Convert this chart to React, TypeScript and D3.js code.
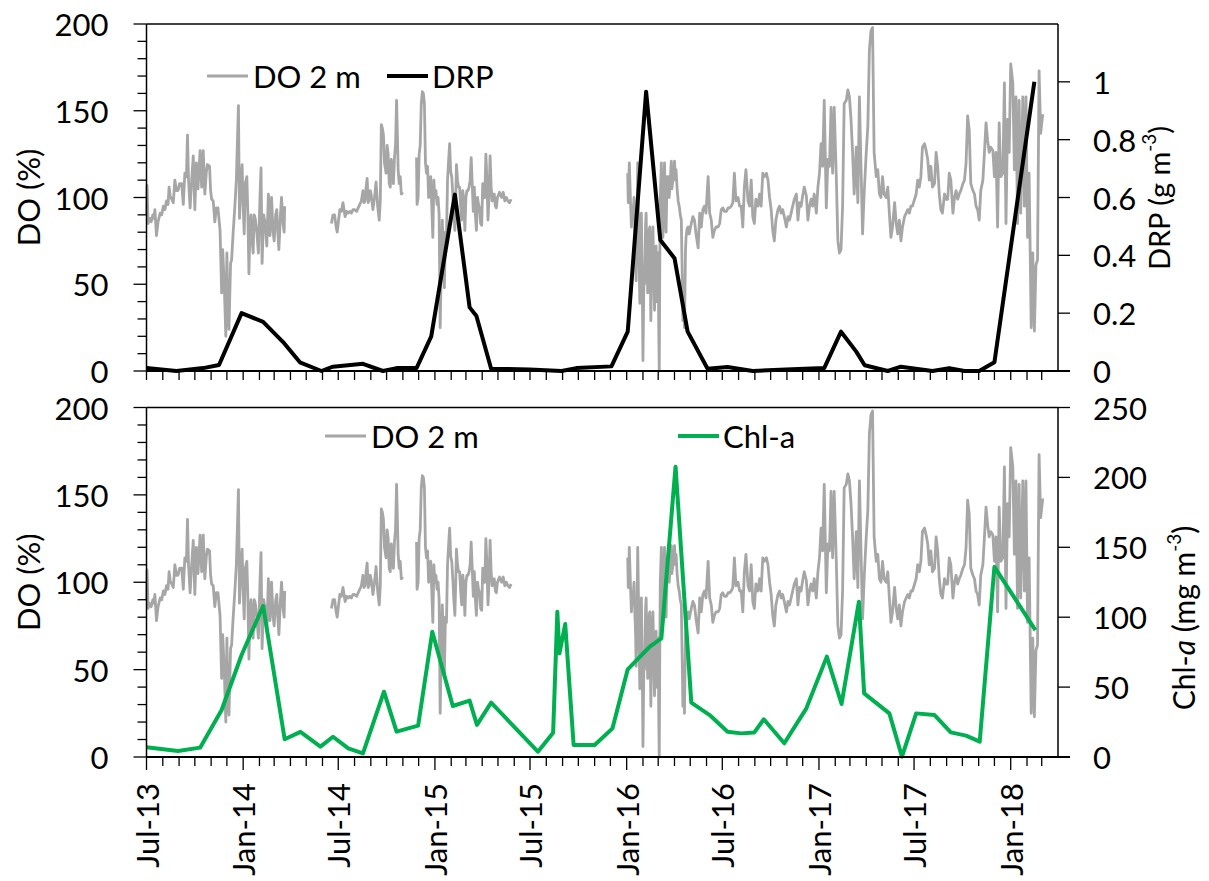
import React from "react";
import * as d3 from "d3";

// ---------- DATA ----------
const SERIES_START = "2013-07-01";
const AXIS_END = "2018-04-01";

// DO at 2 m (%), high-frequency record: [days since SERIES_START, value], split at data gaps
const doSeg1: [number, number][] = [
  [0, 90], [1, 107], [3, 85], [6, 88], [9, 86], [12, 90], [14, 88], [16, 93], [19, 78], [22, 86], [26, 91], [29, 90],
  [32, 95], [35, 93], [38, 98], [41, 96], [43, 106], [45, 101], [48, 99], [51, 97], [54, 110], [57, 104], [60, 104],
  [63, 108], [67, 108], [70, 96], [73, 114], [76, 112], [78, 136], [80, 110], [83, 94], [86, 110], [89, 124], [92, 93],
  [95, 120], [98, 105], [102, 127], [105, 106], [108, 127], [111, 102], [114, 115], [116, 119], [120, 118], [122, 104],
  [124, 99], [127, 98], [130, 86], [133, 94], [136, 94], [140, 81], [143, 45], [145, 70], [148, 50], [151, 20], [153, 68],
  [155, 35], [157, 24], [160, 62], [162, 64], [165, 80], [168, 94], [171, 110], [175, 153], [177, 88], [180, 110],
  [182, 119], [184, 95], [186, 79], [188, 108], [191, 112], [193, 90], [195, 56], [197, 84], [199, 90], [201, 75],
  [203, 68], [205, 90], [207, 88], [210, 80], [213, 68], [216, 100], [218, 117], [220, 62], [223, 90], [226, 85],
  [229, 72], [232, 102], [235, 78], [238, 100], [241, 80], [243, 75], [246, 90], [248, 93], [250, 80], [252, 70],
  [255, 90], [257, 100], [260, 85], [262, 80], [263, 95],
];
const doSeg2: [number, number][] = [
  [352, 85], [355, 90], [358, 90], [361, 83], [363, 80], [366, 88], [368, 93], [371, 92], [374, 97], [376, 93], [378, 89],
  [381, 92], [384, 91], [387, 92], [390, 91], [393, 93], [396, 93], [400, 92], [403, 94], [406, 96], [409, 98], [412, 104],
  [414, 97], [416, 98], [418, 106], [420, 111], [422, 97], [424, 99], [426, 104], [428, 101], [431, 93], [434, 100],
  [437, 109], [440, 95], [443, 87], [445, 98], [447, 142], [449, 140], [451, 136], [453, 120], [456, 114], [458, 130],
  [460, 125], [462, 108], [464, 106], [466, 122], [468, 115], [470, 108], [472, 123], [474, 130], [476, 156], [478, 130],
  [479, 116], [481, 108], [483, 112], [485, 102], [488, 103],
];
const doSeg3: [number, number][] = [
  [514, 123], [515, 96], [517, 100], [519, 125], [521, 130], [523, 154], [525, 161], [527, 160], [529, 154], [531, 120],
  [533, 114], [535, 118], [537, 100], [539, 110], [541, 112], [543, 95], [545, 77], [547, 110], [549, 100], [551, 104],
  [553, 96], [555, 100], [557, 90], [559, 25], [561, 60], [563, 87], [565, 70], [567, 48], [569, 80], [571, 77], [573, 110],
  [575, 121], [577, 131], [579, 115], [581, 112], [583, 102], [585, 90], [587, 81], [589, 105], [590, 119], [592, 110],
  [594, 106], [596, 106], [598, 95], [600, 87], [602, 104], [604, 98], [606, 81], [608, 100], [610, 104], [612, 104],
  [614, 106], [616, 110], [618, 123], [620, 108], [622, 92], [624, 106], [626, 90], [628, 81], [630, 100], [632, 96],
  [634, 94], [636, 85], [638, 84], [640, 108], [642, 100], [644, 100], [646, 125], [648, 110], [650, 87], [652, 100],
  [654, 124], [656, 106], [658, 98], [660, 100], [662, 102], [664, 95], [666, 94], [668, 100], [672, 103], [676, 100],
  [679, 103], [682, 98], [685, 100], [688, 98], [691, 97], [694, 99],
];
const doSeg4: [number, number][] = [
  [916, 114], [917, 97], [919, 120], [921, 100], [923, 83], [925, 95], [926, 90], [928, 100], [929, 87], [931, 70],
  [932, 52], [934, 90], [935, 120], [937, 80], [939, 39], [940, 70], [942, 91], [944, 40], [945, 6], [947, 60], [948, 50],
  [950, 85], [951, 91], [953, 60], [954, 45], [956, 80], [958, 83], [960, 29], [962, 70], [964, 83], [966, 50], [967, 35],
  [969, 60], [970, 72], [972, 40], [974, 68], [975, 25], [976, 0], [977, 60], [978, 100], [980, 120], [982, 85], [983, 77],
  [985, 110], [986, 120], [988, 90], [989, 80], [991, 112], [993, 112], [995, 100], [997, 110], [999, 121], [1000, 105],
  [1002, 110], [1004, 115], [1005, 121], [1007, 110], [1008, 116], [1010, 105], [1012, 98], [1014, 95], [1016, 90],
  [1018, 87], [1020, 50], [1021, 29], [1023, 40], [1024, 25], [1026, 70], [1027, 77], [1029, 82], [1031, 83], [1033, 79],
  [1035, 82], [1037, 85], [1040, 89], [1043, 87], [1046, 79], [1050, 71], [1053, 91], [1056, 83], [1059, 93], [1062, 95],
  [1065, 91], [1069, 112], [1072, 91], [1075, 87], [1078, 77], [1081, 81], [1084, 83], [1088, 83], [1091, 85], [1094, 93],
  [1097, 94], [1100, 92], [1104, 92], [1107, 94], [1110, 94], [1113, 95], [1116, 97], [1119, 114], [1122, 98], [1126, 100],
  [1129, 95], [1132, 95], [1135, 83], [1138, 106], [1141, 116], [1145, 98], [1148, 95], [1151, 110], [1154, 89], [1157, 85],
  [1160, 99], [1164, 95], [1167, 102], [1170, 95], [1173, 114], [1176, 112], [1180, 114], [1183, 110], [1186, 100],
  [1189, 93], [1192, 81], [1195, 75], [1198, 87], [1202, 93], [1205, 95], [1208, 91], [1211, 93], [1214, 89], [1218, 83],
  [1221, 89], [1224, 87], [1227, 91], [1230, 95], [1233, 99], [1237, 102], [1240, 87], [1243, 97], [1246, 95], [1249, 101],
  [1252, 106], [1256, 101], [1259, 87], [1262, 95], [1265, 99], [1268, 95], [1271, 102], [1275, 91], [1278, 106],
  [1281, 114], [1284, 131], [1287, 118], [1290, 156], [1294, 94], [1297, 122], [1300, 118], [1303, 152], [1306, 114],
  [1309, 152], [1313, 112], [1316, 75], [1319, 68], [1322, 70], [1325, 95], [1328, 154], [1332, 156], [1335, 162],
  [1338, 158], [1341, 145], [1344, 126], [1347, 102], [1351, 129], [1354, 97], [1357, 158], [1360, 118], [1363, 79],
  [1366, 102], [1370, 126], [1373, 141], [1376, 185], [1379, 196], [1382, 198], [1385, 126], [1389, 112], [1392, 116],
  [1395, 102], [1398, 100], [1401, 112], [1404, 102], [1408, 100], [1411, 106], [1414, 91], [1417, 77], [1420, 83],
  [1424, 97], [1427, 85], [1430, 79], [1433, 87], [1436, 75], [1439, 83], [1443, 89], [1446, 91], [1449, 93], [1452, 91],
  [1455, 95], [1458, 95], [1462, 99], [1465, 102], [1468, 110], [1471, 106], [1474, 112], [1477, 129], [1481, 131],
  [1484, 127], [1487, 122], [1490, 110], [1493, 118], [1496, 106], [1500, 108], [1503, 126], [1506, 118], [1509, 102],
  [1512, 93], [1515, 91], [1519, 102], [1522, 99], [1525, 99], [1528, 114], [1531, 110], [1535, 91], [1538, 100],
  [1541, 104], [1544, 99], [1547, 102], [1550, 104], [1554, 108], [1557, 110], [1560, 120], [1563, 147], [1566, 139],
  [1569, 108], [1573, 104], [1576, 102], [1579, 95], [1582, 93], [1585, 87], [1588, 104], [1592, 110], [1595, 126],
  [1598, 143], [1601, 133], [1604, 126], [1607, 129], [1611, 127], [1614, 112], [1617, 126], [1620, 83], [1623, 143],
  [1626, 112], [1630, 114], [1633, 166], [1636, 85], [1639, 145], [1642, 126], [1645, 177], [1649, 166], [1652, 116],
  [1655, 158], [1658, 85], [1661, 156], [1664, 91], [1668, 158], [1671, 95], [1674, 158], [1677, 77], [1680, 114],
  [1684, 25], [1687, 68], [1690, 23], [1693, 61], [1696, 64], [1699, 173], [1702, 137], [1706, 148],
];
const doSegments = [doSeg1, doSeg2, doSeg3, doSeg4];

// DRP (g m-3)
const drpDates = [
  "2013-07-01", "2013-08-27", "2013-10-17", "2013-11-16", "2013-12-29", "2014-02-08", "2014-03-18", "2014-04-19",
  "2014-05-30", "2014-06-21", "2014-08-17", "2014-09-24", "2014-10-20", "2014-11-27", "2014-12-25", "2015-02-08",
  "2015-03-08", "2015-03-21", "2015-04-18", "2015-06-30", "2015-08-30", "2015-09-27", "2015-12-03", "2016-01-03",
  "2016-02-07", "2016-03-05", "2016-04-01", "2016-04-26", "2016-06-03", "2016-07-11", "2016-08-28", "2016-10-30",
  "2017-01-11", "2017-02-12", "2017-03-13", "2017-03-29", "2017-05-12", "2017-06-06", "2017-08-05", "2017-09-06",
  "2017-10-05", "2017-11-02", "2017-12-01", "2018-02-15",
];
const drpValues = [
  0.01, 0.0, 0.01, 0.021, 0.2, 0.17, 0.1, 0.03, 0.0, 0.015, 0.025, 0.0, 0.01, 0.01, 0.12, 0.61, 0.22, 0.19, 0.008,
  0.005, 0.0, 0.01, 0.016, 0.136, 0.966, 0.453, 0.39, 0.136, 0.008, 0.014, 0.0, 0.005, 0.01, 0.136, 0.067, 0.02, 0.0,
  0.015, 0.0, 0.01, 0.0, 0.0, 0.03, 1.0,
];

// Chl-a (mg m-3)
const chlDates = [
  "2013-07-01", "2013-08-30", "2013-10-11", "2013-11-21", "2013-12-29", "2014-02-08", "2014-03-21", "2014-04-20",
  "2014-05-28", "2014-06-21", "2014-07-20", "2014-08-17", "2014-09-26", "2014-10-20", "2014-11-30", "2014-12-27",
  "2015-02-04", "2015-03-08", "2015-03-22", "2015-04-18", "2015-07-16", "2015-08-14", "2015-08-22", "2015-08-26",
  "2015-09-06", "2015-09-22", "2015-11-01", "2015-12-05", "2016-01-03", "2016-02-14", "2016-03-07", "2016-04-03",
  "2016-05-03", "2016-06-07", "2016-07-11", "2016-08-06", "2016-08-31", "2016-09-18", "2016-10-27", "2016-12-08",
  "2017-01-16", "2017-02-13", "2017-03-18", "2017-03-28", "2017-05-15", "2017-06-08", "2017-07-05", "2017-08-09",
  "2017-09-09", "2017-10-08", "2017-11-03", "2017-12-01", "2018-02-17",
];
const chlValues = [
  6.9, 4.3, 6.7, 33.6, 73, 108, 12.7, 18, 7.4, 14.5, 6.2, 2.6, 46.7, 18.1, 22.4, 89.6, 36.5, 40.3, 23, 38.9, 3.8, 17.4,
  103.9, 74.2, 95.1, 8.6, 8.6, 20.5, 62.7, 78.9, 84.9, 207.7, 38.9, 30, 18.1, 16.9, 17.6, 27, 9.8, 34.8, 71.8, 37.9, 111,
  45.5, 31.2, 0.2, 31.2, 30, 17.6, 15.3, 11, 136, 90.8,
];

const doTicks = [0, 50, 100, 150, 200];
const drpTicks = [0, 0.2, 0.4, 0.6, 0.8, 1];
const chlTicks = [0, 50, 100, 150, 200, 250];

// ---------- CHART ----------
const FONT = "Lato, 'Open Sans', sans-serif";
const FS = 31;
const parse = d3.utcParse("%Y-%m-%d");
const t0 = parse(SERIES_START) as Date;
const tEnd = parse(AXIS_END) as Date;
const x = d3.scaleUtc().domain([t0, tEnd]).range([146.5, 1058]);
const months = d3.utcMonth.range(t0, tEnd);
const fmtMonth = d3.utcFormat("%b-%y");
const dayDate = (d: number) => d3.utcDay.offset(t0, d);

type PanelProps = {
  top: number;
  bottom: number;
  rightMax: number;
  rightTicks: number[];
  rDates: string[];
  rValues: number[];
  color: string;
  legendDO: number;
  legendR: number;
  legendY: number;
  rName: string;
  majorTicks: boolean;
  children?: React.ReactNode;
};

function Panel(p: PanelProps) {
  const yL = d3.scaleLinear().domain([0, 200]).range([p.bottom, p.top]);
  const yR = d3.scaleLinear().domain([0, p.rightMax]).range([p.bottom, p.top]);
  const doLine = d3
    .line<[number, number]>()
    .x((d) => x(dayDate(d[0])))
    .y((d) => yL(d[1]));
  const rLine = d3
    .line<number>()
    .x((_, i) => x(parse(p.rDates[i]) as Date))
    .y((v) => yR(v));
  const [L, R] = x.range();
  return (
    <g>
      <line x1={L} x2={R} y1={p.top} y2={p.top} stroke="#000" strokeWidth={1.4} />
      {doSegments.map((s, i) => (
        <path key={i} d={doLine(s) || ""} fill="none" stroke="#a6a6a6" strokeWidth={2.8} strokeLinejoin="round" />
      ))}
      <path d={rLine(p.rValues) || ""} fill="none" stroke={p.color} strokeWidth={4} strokeLinejoin="round" />
      {/* left axis */}
      <line x1={L} x2={L} y1={p.top} y2={p.bottom} stroke="#000" strokeWidth={1.5} />
      {d3.range(0, 201, 10).map((v) => (
        <line
          key={v}
          x1={L - (v % 50 === 0 ? 13 : 9)}
          x2={L}
          y1={yL(v)}
          y2={yL(v)}
          stroke="#000"
          strokeWidth={1.3}
        />
      ))}
      {doTicks.map((v) => (
        <text key={v} x={L - 38} y={yL(v)} textAnchor="end" dominantBaseline="central" fontSize={FS}>
          {v}
        </text>
      ))}
      {/* right axis */}
      <line x1={R} x2={R} y1={p.top} y2={p.bottom} stroke="#000" strokeWidth={1.5} />
      {p.rightTicks.map((v) => (
        <line key={v} x1={R} x2={R + 12} y1={yR(v)} y2={yR(v)} stroke="#000" strokeWidth={1.3} />
      ))}
      {p.rightTicks.map((v) => (
        <text key={v} x={R + 35} y={yR(v)} textAnchor="start" dominantBaseline="central" fontSize={FS}>
          {String(+v.toFixed(1))}
        </text>
      ))}
      {/* x axis */}
      <line x1={L} x2={R + 12} y1={p.bottom} y2={p.bottom} stroke="#000" strokeWidth={2} />
      {months.map((m, i) => {
        const major = p.majorTicks && m.getUTCMonth() % 6 === 0;
        return (
          <line
            key={i}
            x1={x(m)}
            x2={x(m)}
            y1={p.bottom}
            y2={p.bottom + (major ? 13 : 9)}
            stroke="#000"
            strokeWidth={1.3}
          />
        );
      })}
      {/* legend */}
      <line x1={p.legendDO} x2={p.legendDO + 41} y1={p.legendY} y2={p.legendY} stroke="#a6a6a6" strokeWidth={3} />
      <text x={p.legendDO + 46} y={p.legendY} dominantBaseline="central" fontSize={FS}>
        DO 2 m
      </text>
      <line x1={p.legendR} x2={p.legendR + 41} y1={p.legendY} y2={p.legendY} stroke={p.color} strokeWidth={4} />
      <text x={p.legendR + 45} y={p.legendY} dominantBaseline="central" fontSize={FS}>
        {p.rName}
      </text>
      {/* left title */}
      <text
        transform={`translate(28,${(p.top + p.bottom) / 2}) rotate(-90)`}
        textAnchor="middle"
        dominantBaseline="central"
        fontSize={FS}
      >
        DO (%)
      </text>
      {p.children}
    </g>
  );
}

export default function App() {
  return (
    <svg
      width={1209}
      height={881}
      style={{ position: "absolute", left: 0, top: 0, background: "#fff" }}
      fontFamily={FONT}
      fill="#000"
    >
      <rect width={1209} height={881} fill="#fff" />
      <Panel
        top={24}
        bottom={371}
        rightMax={1.2}
        rightTicks={drpTicks}
        rDates={drpDates}
        rValues={drpValues}
        color="#000"
        legendDO={207}
        legendR={387}
        legendY={76}
        rName="DRP"
        majorTicks={false}
      >
        <text transform="translate(1158,198) rotate(-90)" textAnchor="middle" dominantBaseline="central" fontSize={FS - 2}>
          DRP (g m
          <tspan dy={-10} fontSize={19}>
            -3
          </tspan>
          <tspan dy={10}>)</tspan>
        </text>
      </Panel>
      <Panel
        top={407.5}
        bottom={757}
        rightMax={250}
        rightTicks={chlTicks}
        rDates={chlDates}
        rValues={chlValues}
        color="#00b050"
        legendDO={325}
        legendR={678}
        legendY={436}
        rName="Chl-a"
        majorTicks={true}
      >
        <text transform="translate(1183,618) rotate(-90)" textAnchor="middle" dominantBaseline="central" fontSize={FS - 1}>
          Chl-<tspan fontStyle="italic">a</tspan> (mg m
          <tspan dy={-10} fontSize={19}>
            -3
          </tspan>
          <tspan dy={10}>)</tspan>
        </text>
      </Panel>
      {months
        .filter((m) => m.getUTCMonth() % 6 === 0)
        .map((m, i) => (
          <text
            key={i}
            transform={`translate(${x(m)},783) rotate(-90)`}
            textAnchor="end"
            dominantBaseline="central"
            fontSize={FS}
          >
            {fmtMonth(m)}
          </text>
        ))}
    </svg>
  );
}
